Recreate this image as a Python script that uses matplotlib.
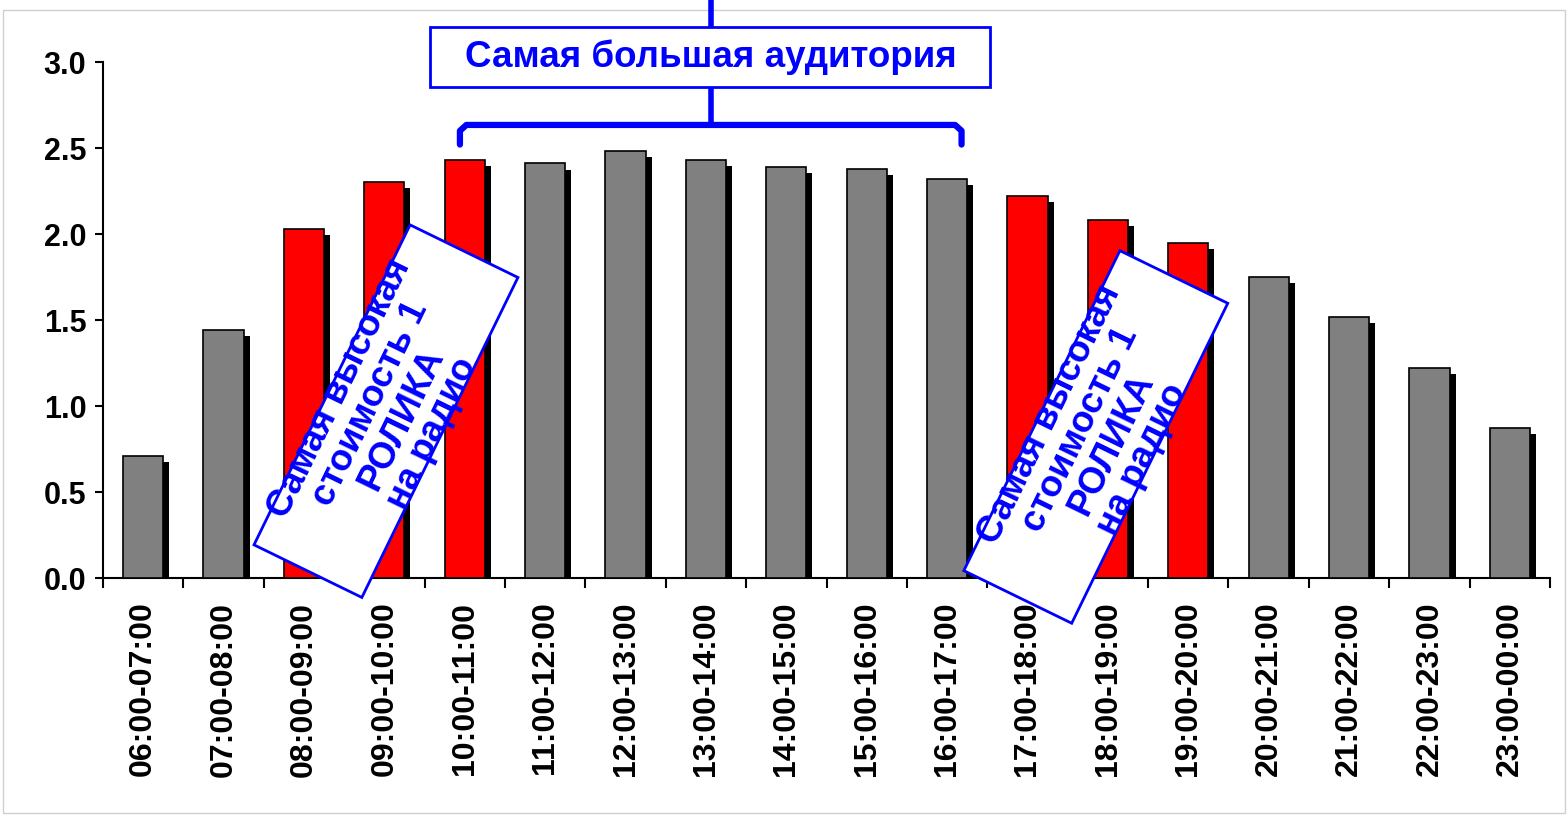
import matplotlib
matplotlib.use("Agg")
import matplotlib.pyplot as plt
from matplotlib.patches import Rectangle
from matplotlib.transforms import Affine2D

plt.rcParams['font.family'] = ['Liberation Sans', 'DejaVu Sans']
plt.rcParams['font.weight'] = 'bold'

# hours and audience values
hours = ["06:00-07:00", "07:00-08:00", "08:00-09:00", "09:00-10:00",
         "10:00-11:00", "11:00-12:00", "12:00-13:00", "13:00-14:00",
         "14:00-15:00", "15:00-16:00", "16:00-17:00", "17:00-18:00",
         "18:00-19:00", "19:00-20:00", "20:00-21:00", "21:00-22:00",
         "22:00-23:00", "23:00-00:00"]
audience = [0.71, 1.44, 2.03, 2.30, 2.43, 2.41, 2.48, 2.43, 2.39,
            2.38, 2.32, 2.22, 2.08, 1.95, 1.75, 1.52, 1.22, 0.87]
expensive = [2, 3, 4, 11, 12, 13]   # red bars (highest spot price)
yticks = [0.0, 0.5, 1.0, 1.5, 2.0, 2.5, 3.0]

top_label = "Самая большая аудитория"
box_label = "Самая высокая\nстоимость 1\nРОЛИКА\nна радио"
BLUE = "#0000ff"

W, H = 1567, 815
fig = plt.figure(figsize=(W / 100, H / 100), dpi=100)
ax = fig.add_axes([103 / W, 1 - 578 / H, (1550 - 103) / W, (578 - 62) / H])

x = list(range(len(hours)))
colors = ["#ff0000" if i in expensive else "#808080" for i in x]

# shadow bars then the bars themselves
ax.bar([i + 0.075 for i in x], [v - 0.035 for v in audience], width=0.5,
       color="black", zorder=2)
ax.bar(x, audience, width=0.5, color=colors, edgecolor="black",
       linewidth=1.2, zorder=3)

ax.set_xlim(-0.5, len(hours) - 0.5)
ax.set_ylim(0, 3.0)
ax.set_yticks(yticks)
ax.set_yticklabels([f"{t:.1f}" for t in yticks], fontsize=22, fontweight='bold')
ax.set_xticks(x)
ax.set_xticklabels(hours, rotation=90, fontsize=23, fontweight='bold')
ax.set_xticks([i - 0.5 for i in range(len(hours) + 1)], minor=True)
ax.tick_params(axis='x', which='major', length=0, pad=17)
ax.tick_params(axis='x', which='minor', length=7, width=1.5, direction='out')
ax.tick_params(axis='y', length=6, width=1.5, pad=6)
for s in ['top', 'right']:
    ax.spines[s].set_visible(False)
for s in ['left', 'bottom']:
    ax.spines[s].set_linewidth(1.5)

# outer frame of the chart
fig.add_artist(Rectangle((3 / W, 1 - 813 / H), (1565 - 3) / W, (813 - 10) / H,
                         transform=fig.transFigure, fill=False,
                         edgecolor="#d0d0d0", linewidth=1, zorder=-1))

# "largest audience" box with bracket
ax.plot([7.06, 7.06], [3.36, 3.20], color=BLUE, lw=4, clip_on=False,
        solid_capstyle='butt', zorder=5)
ax.add_patch(Rectangle((3.57, 2.855), 10.53 - 3.57, 3.203 - 2.855,
                       fc='white', ec=BLUE, lw=2, clip_on=False, zorder=6))
ax.text(7.06, 3.03, top_label, color=BLUE, fontsize=26.5, fontweight='bold',
        ha='center', va='center', zorder=7, clip_on=False)
ax.plot([7.06, 7.06], [2.855, 2.64], color=BLUE, lw=4, clip_on=False,
        solid_capstyle='butt', zorder=5)
ax.plot([3.94, 3.94, 4.02, 10.10, 10.18, 10.18],
        [2.52, 2.60, 2.634, 2.634, 2.60, 2.52], color=BLUE, lw=4.5,
        clip_on=False, solid_joinstyle='round', solid_capstyle='round', zorder=5)

# rotated "highest price" boxes
fig.canvas.draw()
for cx, cy in [(3.02, 0.97), (11.85, 0.82)]:
    px, py = ax.transData.transform((cx, cy))
    rect = Rectangle((-178, -60), 356, 120, fc='white', ec=BLUE, lw=2,
                     zorder=6, clip_on=False)
    ax.add_patch(rect)
    rect.set_transform(Affine2D().rotate_deg(64).translate(px, py))
    ax.text(cx, cy, box_label, color=BLUE, fontsize=26.5, fontweight='bold',
            rotation=64, rotation_mode='anchor', ha='center', va='center',
            multialignment='center', linespacing=0.98, zorder=7, clip_on=False)

fig.savefig("out.png", dpi=100)
